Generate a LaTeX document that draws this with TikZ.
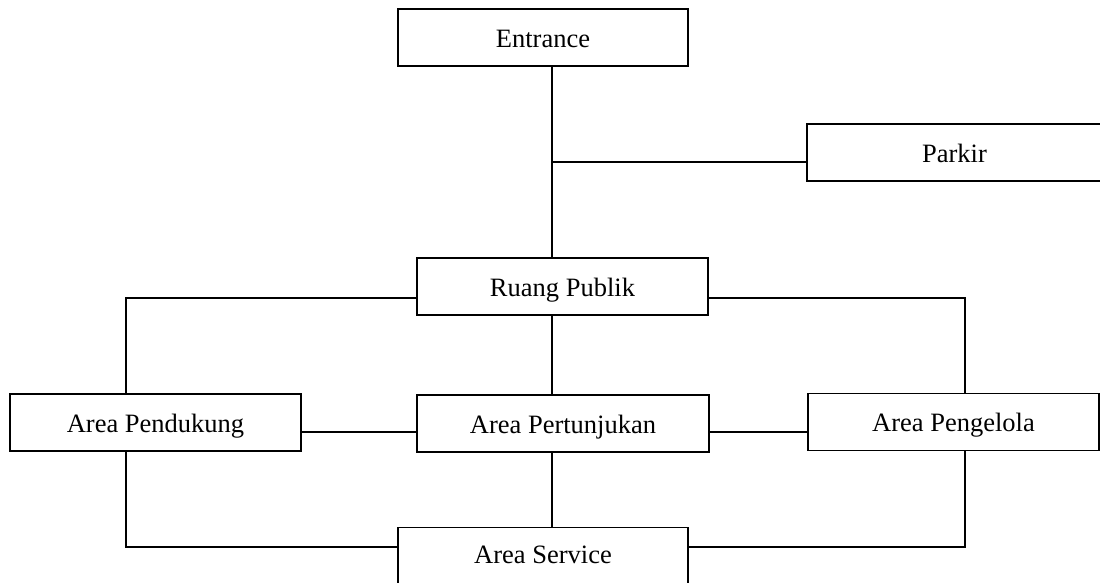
\documentclass[tikz,border=0pt]{standalone}
\usepackage{fontspec}
\setmainfont{Liberation Serif}
\begin{document}
\begin{tikzpicture}[x=1pt,y=-1pt,
  label text/.style={font=\fontsize{26.5}{30}\selectfont, text height=19pt, text depth=0pt},
  roombox/.style={draw=black, line width=1.7pt, rectangle, inner sep=0pt,
    minimum height=57pt, label text},
  link/.style={draw=black, line width=1.7pt}]
  \useasboundingbox (0,0) rectangle (1100,582);
  \clip (0,0) rectangle (1100,582);

  % rooms
  \node[roombox, minimum width=290pt] (entrance)    at (543,37.5)   {Entrance};
  \node[roombox, minimum width=295pt] (parkir)      at (954.5,152.5){Parkir};
  \node[roombox, minimum width=291pt] (ruang)       at (562.5,286.5){Ruang Publik};
  \node[roombox, minimum width=291pt] (pendukung)   at (155.5,422.5){Area Pendukung};
  \node[roombox, minimum width=292pt] (pertunjukan) at (563,423.5)  {Area Pertunjukan};
  \node[roombox, minimum width=291pt] (pengelola)   at (953.5,422)  {Area Pengelola};
  \node[roombox, minimum width=290pt, minimum height=60pt] (service) at (543,557.5) {};
  \node[label text, inner sep=0pt] (servicetext) at (543,554) {Area Service};

  % junction points of the connectors
  \coordinate (trunk) at (552,162);
  \coordinate (rl) at (126,298);
  \coordinate (rr) at (965,298);
  \coordinate (mid) at (0,432);
  \coordinate (bl) at (126,547);
  \coordinate (br) at (965,547);

  % connectors
  \draw[link] (entrance.south -| trunk) -- (ruang.north -| trunk);
  \draw[link] (trunk) -- (trunk -| parkir.west);
  \draw[link] (rl -| ruang.west) -- (rl) -- (rl |- pendukung.north);
  \draw[link] (rr -| ruang.east) -- (rr) -- (rr |- pengelola.north);
  \draw[link] (ruang.south -| trunk) -- (pertunjukan.north -| trunk);
  \draw[link] (pendukung.east |- mid) -- (pertunjukan.west |- mid);
  \draw[link] (pertunjukan.east |- mid) -- (pengelola.west |- mid);
  \draw[link] (pertunjukan.south -| trunk) -- (service.north -| trunk);
  \draw[link] (bl |- pendukung.south) -- (bl) -- (bl -| service.west);
  \draw[link] (br -| service.east) -- (br) -- (br |- pengelola.south);
\end{tikzpicture}
\end{document}
